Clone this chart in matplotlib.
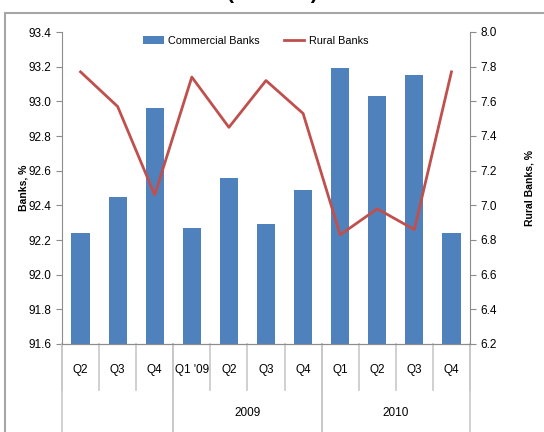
import matplotlib.pyplot as plt
from matplotlib.patches import Rectangle
from matplotlib.transforms import blended_transform_factory

quarters = ["Q2", "Q3", "Q4", "Q1 '09", "Q2", "Q3", "Q4", "Q1", "Q2", "Q3", "Q4"]
years = ["", "2009", "2010"]
year_bounds = [(0, 2), (3, 6), (7, 10)]
commercial = [92.24, 92.45, 92.96, 92.27, 92.56, 92.29, 92.49, 93.19, 93.03, 93.15, 92.24]
rural = [7.77, 7.57, 7.06, 7.74, 7.45, 7.72, 7.53, 6.83, 6.98, 6.86, 7.77]

plt.rcParams['font.family'] = ['Liberation Sans Narrow', 'Liberation Sans', 'DejaVu Sans']
grey = '#8c8c8c'
fs = 8.5

fig = plt.figure(figsize=(5.44, 4.32), dpi=100)
W, H = 544, 432

# outer frame of the chart area
fig.patches.append(Rectangle((5 / W, -0.1), 1.1, 1 - 13 / H + 0.1, transform=fig.transFigure,
                             fill=False, edgecolor='#a6a6a6', linewidth=1.5))
fig.text(0.5, 1 + 1 / H, "(Percent)", ha='center', va='baseline', fontsize=15,
         fontweight='bold', family=['Liberation Sans', 'DejaVu Sans'])

ax = fig.add_axes([62 / W, 1 - 344 / H, 408 / W, 312 / H])
x = list(range(len(quarters)))
bars = ax.bar(x, commercial, width=0.49, color='#4f81bd', label='Commercial Banks', zorder=2)
ax.set_ylim(91.6, 93.4)
ax.set_yticks([91.6 + 0.2 * i for i in range(10)])
ax.set_yticklabels([f"{91.6 + 0.2 * i:.1f}" for i in range(10)])
ax.set_xlim(-0.5, len(quarters) - 0.5)
ax.set_xticks([])

ax2 = ax.twinx()
line, = ax2.plot(x, rural, color='#c0504d', linewidth=2.0, label='Rural Banks', zorder=3)
ax2.set_ylim(6.2, 8.0)
ax2.set_yticks([6.2 + 0.2 * i for i in range(10)])
ax2.set_yticklabels([f"{6.2 + 0.2 * i:.1f}" for i in range(10)])

for a in (ax, ax2):
    a.spines['top'].set_visible(False)
    for s in ('left', 'right', 'bottom'):
        a.spines[s].set_color(grey)
    a.tick_params(axis='y', colors=grey, labelcolor='black', labelsize=fs, length=4, width=0.8)
ax.spines['right'].set_visible(False)
ax2.spines['left'].set_visible(False)

ax.set_ylabel("Banks, %", fontsize=7.5, fontweight='bold',
              family=['Liberation Sans', 'DejaVu Sans'])
ax.yaxis.set_label_coords(-34 / 408, 0.5)
ax2.set_ylabel("Rural Banks, %", fontsize=7.5, fontweight='bold',
               family=['Liberation Sans', 'DejaVu Sans'])
ax2.yaxis.set_label_coords(462 / 408, 0.5)

# two-level category axis
tr = blended_transform_factory(ax.transData, ax.transAxes)
row1 = -(390 - 344) / 312
row2 = -(440 - 344) / 312
for i, q in enumerate(quarters):
    ax.text(i, -(370 - 344) / 312, q, transform=tr, ha='center', va='center', fontsize=fs)
for i in range(len(quarters) + 1):
    ax.plot([i - 0.5, i - 0.5], [0, row1], transform=tr, color='#c8c8c8',
            linewidth=1.2, clip_on=False)
for (a, b), yr in zip(year_bounds, years):
    ax.text((a + b) / 2, -(413 - 344) / 312, yr, transform=tr, ha='center', va='center',
            fontsize=fs)
    for edge in (a - 0.5, b + 0.5):
        ax.plot([edge, edge], [0, row2], transform=tr, color='#c8c8c8',
                linewidth=1.2, clip_on=False)

ax.legend([bars, line], ['Commercial Banks', 'Rural Banks'], loc='upper center',
          bbox_to_anchor=(0.475, 1.02), ncol=2, frameon=False, fontsize=7.8,
          handlelength=1.9, columnspacing=2.2, handletextpad=0.4)

fig.savefig('out.png', dpi=100)
